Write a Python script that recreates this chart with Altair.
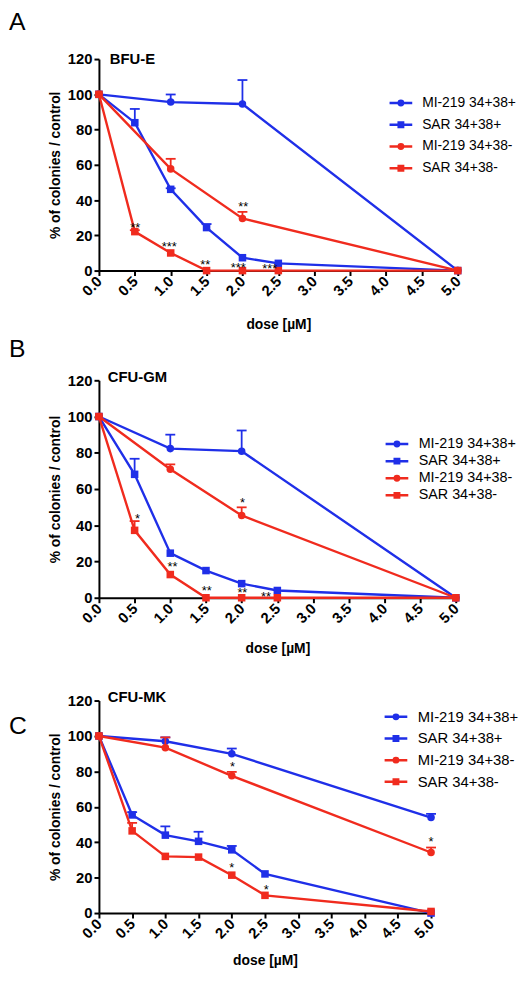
import altair as alt
import pandas as pd

FONT = "Liberation Sans"
BLUE = "#1f2fe8"
RED = "#f02b1e"

# ---------------- data ----------------
SERIES = ["MI-219 34+38+", "SAR 34+38+", "MI-219 34+38-", "SAR 34+38-"]
SERIES_COLORS = [BLUE, BLUE, RED, RED]
SERIES_MARKERS = ["circle", "square", "circle", "square"]

MI_DOSES = [0.0, 1.0, 2.0, 5.0]
SAR_DOSES = [0.0, 0.5, 1.0, 1.5, 2.0, 2.5, 5.0]
X_TICKS = [0.0, 0.5, 1.0, 1.5, 2.0, 2.5, 3.0, 3.5, 4.0, 4.5, 5.0]
Y_TICKS = [0, 20, 40, 60, 80, 100, 120]

# Panel A  (BFU-E)
A_MI_POS = [100, 95.6, 94.5, 0]
A_MI_POS_ERR = [0, 4.3, 13.6, 0]
A_SAR_POS = [100, 83.9, 46.1, 24.4, 7.3, 4.1, 0]
A_SAR_POS_ERR = [0, 7.8, 0.6, 2.0, 0, 0, 0]
A_MI_NEG = [100, 57.7, 29.6, 0]
A_MI_NEG_ERR = [0, 5.7, 3.7, 0]
A_SAR_NEG = [100, 22.1, 10.0, 0, 0, 0, 0]
A_SAR_NEG_ERR = [0, 0.8, 0, 0, 0, 0, 0]
A_STAR_DOSE = [0.505, 0.98, 1.48, 1.94, 2.38, 2.01]
A_STAR_VALUE = [26.3, 15.5, 4.9, 3.4, 3.0, 37.8]
A_STAR_TEXT = ["**", "***", "**", "***", "***", "**"]

# Panel B  (CFU-GM)
B_MI_POS = [100, 82.3, 80.9, 0]
B_MI_POS_ERR = [0, 7.7, 11.4, 0]
B_SAR_POS = [100, 68.1, 24.6, 15.0, 7.8, 4.0, 0]
B_SAR_POS_ERR = [0, 8.6, 0, 0, 0, 0, 0]
B_MI_NEG = [100, 70.9, 45.4, 0]
B_MI_NEG_ERR = [0, 2.7, 4.5, 0]
B_SAR_NEG = [100, 37.2, 12.8, 0, 0, 0, 0]
B_SAR_NEG_ERR = [0, 5.1, 0, 0, 0, 0, 0]
B_STAR_DOSE = [0.54, 1.03, 1.51, 2.01, 2.34, 2.01]
B_STAR_VALUE = [45.4, 18.8, 5.6, 4.3, 2.5, 54.0]
B_STAR_TEXT = ["*", "**", "**", "**", "**", "*"]

# Panel C  (CFU-MK)
C_MI_POS = [100, 97.0, 89.9, 53.9]
C_MI_POS_ERR = [0, 2.2, 3.0, 2.1]
C_SAR_POS = [100, 55.4, 44.0, 40.5, 35.7, 22.1, 0]
C_SAR_POS_ERR = [0, 1.6, 5.0, 5.4, 2.2, 0, 0]
C_MI_NEG = [100, 93.4, 77.5, 34.2]
C_MI_NEG_ERR = [0, 5.8, 2.2, 2.8]
C_SAR_NEG = [100, 46.4, 32.0, 31.6, 21.4, 10.0, 0.9]
C_SAR_NEG_ERR = [0, 4.5, 0, 0, 0, 0, 0]
C_STAR_DOSE = [2.01, 5.0, 2.0, 2.52]
C_STAR_VALUE = [84.3, 42.2, 27.3, 15.2]
C_STAR_TEXT = ["*", "*", "*", "*"]

# legend symbols: line segment with marker (custom SVG paths)
LEGEND_PATHS = [
    "M-1.64,0L1.64,0M-0.32,0A0.32,0.32,0,1,0,0.32,0A0.32,0.32,0,1,0,-0.32,0Z",
    "M-1.64,0L1.64,0M-0.32,-0.32L0.32,-0.32L0.32,0.32L-0.32,0.32Z",
    "M-1.64,0L1.64,0M-0.32,0A0.32,0.32,0,1,0,0.32,0A0.32,0.32,0,1,0,-0.32,0Z",
    "M-1.64,0L1.64,0M-0.32,-0.32L0.32,-0.32L0.32,0.32L-0.32,0.32Z",
]


def panel(letter, name, vals, errs, star_x, star_y, star_t, w, h, lay):
    rows = []
    for s, v_list, e_list in zip(SERIES, vals, errs):
        doses = MI_DOSES if s.startswith("MI") else SAR_DOSES
        for d, v, e in zip(doses, v_list, e_list):
            rows.append({"series": s, "dose": d, "value": v, "upper": v + e, "err": e})
    df = pd.DataFrame(rows)

    top = lay["top"]  # empty strip above the y axis inside the panel
    xs = alt.Scale(domain=[0, 5], nice=False, zero=False)
    ys = alt.Scale(domain=[0, 120], nice=False, range=[h, top])
    xaxis = alt.Axis(values=X_TICKS, format=".1f", labelAngle=315, labelAlign="right",
                     labelBaseline="middle", labelPadding=3, labelOverlap=False,
                     title="dose [µM]", titlePadding=lay["xtp"], grid=False)
    yaxis = alt.Axis(values=Y_TICKS, title="% of colonies / control", titlePadding=5,
                     labelPadding=2, grid=False)
    X = alt.X("dose:Q", scale=xs, axis=xaxis)
    Y = alt.Y("value:Q", scale=ys, axis=yaxis)

    layers = []
    for s, c, m in zip(SERIES, SERIES_COLORS, SERIES_MARKERS):
        sd = df[df.series == s]
        layers.append(alt.Chart(sd).mark_line(color=c, strokeWidth=2.4).encode(x=X, y=Y))
        ed = sd[sd.err > 0]
        if len(ed):
            layers.append(alt.Chart(ed).mark_rule(color=c, strokeWidth=1.8).encode(
                x=X, y=Y, y2="upper:Q"))
            layers.append(alt.Chart(ed).mark_tick(color=c, orient="horizontal", size=10,
                                                  thickness=1.8, opacity=1).encode(
                x=X, y=alt.Y("upper:Q", scale=ys, axis=yaxis)))
        layers.append(alt.Chart(sd).mark_point(shape=m, filled=True, size=58, color=c,
                                               opacity=1).encode(x=X, y=Y))

    sdf = pd.DataFrame({"dose": star_x, "value": star_y, "label": star_t})
    layers.append(alt.Chart(sdf).mark_text(font=FONT, fontSize=13, color="black",
                                           baseline="middle", dy=3.5).encode(
        x=X, y=Y, text="label:N"))

    leg = alt.Legend(title=None, orient="none", legendX=lay["lx"], legendY=lay["ly"] + top,
                     labelFont=FONT, labelFontSize=lay["lfs"], labelColor="black",
                     symbolSize=196, symbolStrokeWidth=2.5, rowPadding=lay["rp"],
                     labelOffset=lay["lo"], padding=0, offset=0)
    layers.append(
        alt.Chart(df).transform_filter("datum.dose < 0")
        .mark_point(filled=True, opacity=1, size=196, strokeWidth=2.5)
        .encode(
            x=X, y=Y,
            fill=alt.Fill("series:N", scale=alt.Scale(domain=SERIES, range=SERIES_COLORS), legend=leg),
            stroke=alt.Stroke("series:N", scale=alt.Scale(domain=SERIES, range=SERIES_COLORS), legend=leg),
            shape=alt.Shape("series:N", scale=alt.Scale(domain=SERIES, range=LEGEND_PATHS), legend=leg),
        )
    )

    layers.append(alt.Chart(pd.DataFrame({"t": [letter]})).mark_text(
        font=FONT, fontSize=25, align="left", baseline="alphabetic", color="black").encode(
        text="t:N", x=alt.value(-91), y=alt.value(lay["letter_y"] + top)))
    layers.append(alt.Chart(pd.DataFrame({"t": [name]})).mark_text(
        font=FONT, fontSize=15, fontWeight="bold", align="left", baseline="middle",
        color="black").encode(text="t:N", x=alt.value(lay["nx"]), y=alt.value(lay["ny"] + top)))

    return alt.layer(*layers).properties(width=w, height=h)


pa = panel("A", "BFU-E",
           [A_MI_POS, A_SAR_POS, A_MI_NEG, A_SAR_NEG],
           [A_MI_POS_ERR, A_SAR_POS_ERR, A_MI_NEG_ERR, A_SAR_NEG_ERR],
           A_STAR_DOSE, A_STAR_VALUE, A_STAR_TEXT, 363, 214,
           dict(top=0, xtp=19, lx=297, ly=36, lfs=14, rp=6, lo=13, letter_y=-29, nx=11, ny=0))
pb = panel("B", "CFU-GM",
           [B_MI_POS, B_SAR_POS, B_MI_NEG, B_SAR_NEG],
           [B_MI_POS_ERR, B_SAR_POS_ERR, B_MI_NEG_ERR, B_SAR_NEG_ERR],
           B_STAR_DOSE, B_STAR_VALUE, B_STAR_TEXT, 361, 227,
           dict(top=7, xtp=16, lx=293, ly=56, lfs=14.5, rp=1.3, lo=13.5, letter_y=-24, nx=9, ny=-3))
pc = panel("C", "CFU-MK",
           [C_MI_POS, C_SAR_POS, C_MI_NEG, C_SAR_NEG],
           [C_MI_POS_ERR, C_SAR_POS_ERR, C_MI_NEG_ERR, C_SAR_NEG_ERR],
           C_STAR_DOSE, C_STAR_VALUE, C_STAR_TEXT, 336, 215,
           dict(top=0, xtp=13, lx=292, ly=8, lfs=15, rp=4.9, lo=13.5, letter_y=34, nx=9, ny=-4))

chart = (
    alt.vconcat(pa, pb, pc, spacing=104, bounds="flush")
    .resolve_scale(fill="independent", stroke="independent", shape="independent")
    .resolve_legend(fill="independent", stroke="independent", shape="independent")
    .properties(padding={"top": -4, "left": 0, "right": 0, "bottom": 0})
    .configure_view(stroke="transparent")
    .configure_axis(domainColor="black", domainWidth=2, tickColor="black", tickWidth=2,
                    tickSize=5, labelFont=FONT, labelFontSize=15, labelFontWeight="bold",
                    labelColor="black", titleFont=FONT, titleFontSize=14,
                    titleFontWeight="bold", titleColor="black")
)

chart.save("out.html", embed_options={"renderer": "svg", "actions": False})
